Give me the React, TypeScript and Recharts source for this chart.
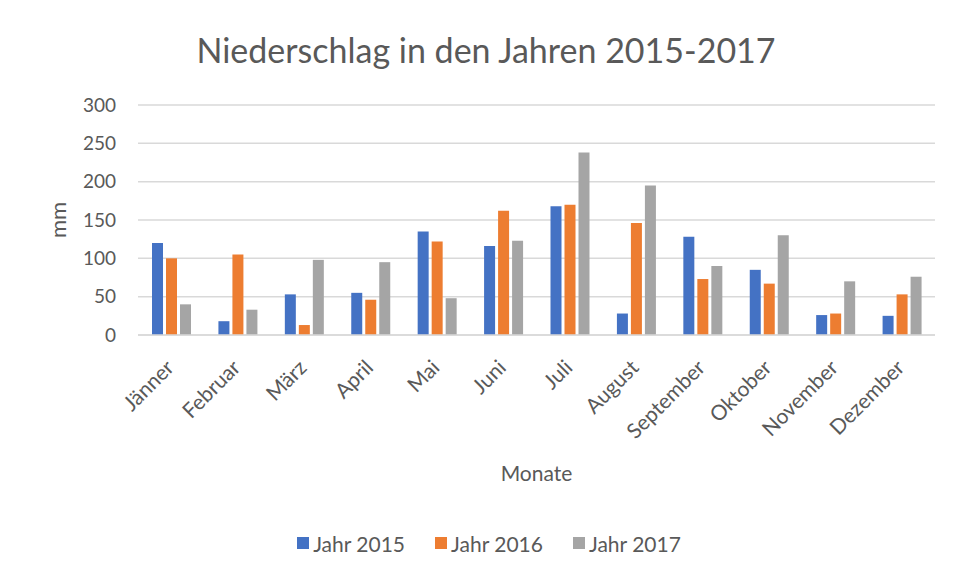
import React from "react";
import { Bar, BarChart, CartesianGrid, Legend, XAxis, YAxis } from "recharts";

const months = [
	"Jänner",
	"Februar",
	"März",
	"April",
	"Mai",
	"Juni",
	"Juli",
	"August",
	"September",
	"Oktober",
	"November",
	"Dezember",
];
const jahr2015 = [120, 18, 53, 55, 135, 116, 168, 28, 128, 85, 26, 25];
const jahr2016 = [100, 105, 13, 46, 122, 162, 170, 146, 73, 67, 28, 53];
const jahr2017 = [40, 33, 98, 95, 48, 123, 238, 195, 90, 130, 70, 76];
const yTicks = [0, 50, 100, 150, 200, 250, 300];

const data = months.map((m, i) => ({
	month: m,
	j2015: jahr2015[i],
	j2016: jahr2016[i],
	j2017: jahr2017[i],
}));

const series = [
	{ key: "j2015", name: "Jahr 2015", color: "#4472C4" },
	{ key: "j2016", name: "Jahr 2016", color: "#ED7D31" },
	{ key: "j2017", name: "Jahr 2017", color: "#A5A5A5" },
];

const FONT = "Lato, 'Open Sans', sans-serif";
const TEXT = "#595959";

// rotated month labels, end of text sits just under the category centre
const MonthTick = ({ x, y, payload }: any) => (
	<text
		x={x + 4}
		y={y + 26}
		transform={`rotate(-45 ${x + 4} ${y + 26})`}
		textAnchor="end"
		fill={TEXT}
		fontSize={21}
		fontFamily={FONT}>
		{payload.value}
	</text>
);

const LegendBox = () => (
	<div
		style={{
			display: "flex",
			justifyContent: "center",
			paddingLeft: 36,
			height: 24,
			alignItems: "center",
			fontFamily: FONT,
			fontSize: 21,
			color: TEXT,
		}}>
		{series.map((s) => (
			<div
				key={s.key}
				style={{ display: "flex", alignItems: "center", margin: "0 15px" }}>
				<span
					style={{
						width: 12,
						height: 12,
						background: s.color,
						display: "inline-block",
						marginRight: 4,
					}}
				/>
				{s.name}
			</div>
		))}
	</div>
);

export default function App() {
	return (
		<div
			style={{
				position: "relative",
				width: 940,
				height: 564,
				marginLeft: -1,
				outline: "2px solid #D4D4D4",
				background: "#fff",
			}}>
			<div
				style={{
					position: "absolute",
					top: 21,
					left: 0,
					width: 958,
					textAlign: "center",
					fontFamily: FONT,
					fontSize: 34,
					color: TEXT,
				}}>
				Niederschlag in den Jahren 2015-2017
			</div>
			<BarChart
				width={940}
				height={564}
				data={data}
				margin={{ top: 97, right: 12, left: 0, bottom: 17 }}
				barSize={11}
				barGap={3}>
				<CartesianGrid vertical={false} stroke="#D9D9D9" strokeWidth={1.5} />
				<XAxis
					dataKey="month"
					height={196}
					interval={0}
					axisLine={{ stroke: "#D9D9D9", strokeWidth: 1.5 }}
					tickLine={false}
					tick={<MonthTick />}
					label={{
						value: "Monate",
						position: "insideBottom",
						offset: 50,
						fill: TEXT,
						fontSize: 21,
						fontFamily: FONT,
					}}
				/>
				<YAxis
					width={131}
					domain={[0, 300]}
					ticks={yTicks}
					axisLine={false}
					tickLine={false}
					tickSize={0}
					tickMargin={22}
					tick={{ fill: TEXT, fontSize: 19, fontFamily: FONT }}
					label={{
						value: "mm",
						angle: -90,
						position: "insideLeft",
						offset: 51,
						fill: TEXT,
						fontSize: 22,
						fontFamily: FONT,
						style: { textAnchor: "middle" },
					}}
				/>
				<Legend verticalAlign="bottom" content={<LegendBox />} />
				{series.map((s) => (
					<Bar
						key={s.key}
						dataKey={s.key}
						name={s.name}
						fill={s.color}
						isAnimationActive={false}
					/>
				))}
			</BarChart>
		</div>
	);
}
